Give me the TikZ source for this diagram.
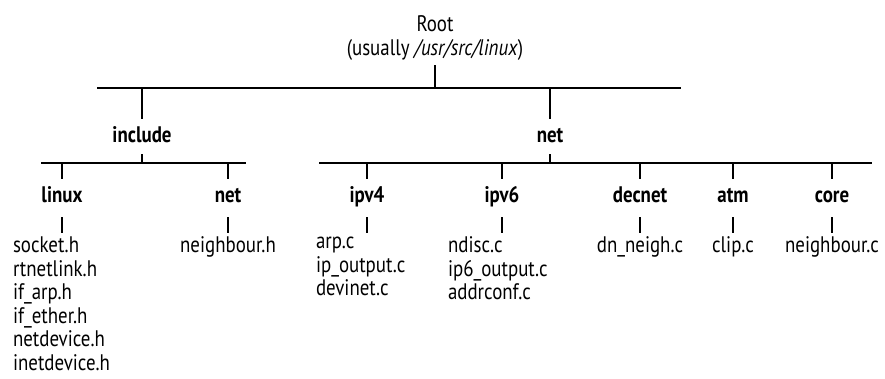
\documentclass[tikz,border=0pt]{standalone}
\usepackage{fontspec}
\setmainfont{PT Sans}[FakeStretch=0.84]
\usetikzlibrary{positioning}
\tikzset{
  % bars and stems
  ln/.style={line width=2.8pt},
  % plain text
  txt/.style={font=\fontsize{22.5}{23.5}\selectfont},
  % folder labels
  dir/.style={txt,font=\fontsize{22.5}{23.5}\selectfont\bfseries,
              inner sep=0pt,outer xsep=0pt,outer ysep=6pt,
              text height=17pt,text depth=6pt,anchor=base},
  % folders that hold files
  leaf/.style={dir,text depth=9pt},
  % file lists
  files/.style={txt,inner sep=0pt,outer xsep=0pt,outer ysep=4pt,
                align=left,anchor=north west}
}
\begin{document}
\begin{tikzpicture}[x=1pt,y=1pt]
  \useasboundingbox (0,0) rectangle (885,-378);

  % --- root ---
  \node[txt,align=center,anchor=south,inner sep=0pt,outer sep=5pt] (root) at (435,-65)
       {Root\\(usually \textit{/usr/src/linux})};
  \coordinate (rootL) at (97,-88);
  \coordinate (rootR) at (681,-88);

  % --- second level ---
  \node[dir] (include) at (142,-142) {include};
  \node[dir] (net)     at (550,-142) {net};
  \coordinate (incL) at (41,-163);
  \coordinate (incR) at (246,-163);
  \coordinate (netL) at (319,-163);
  \coordinate (netR) at (872,-163);

  % --- third level ---
  \node[leaf] (linux)  at (62,-202)  {linux};
  \node[leaf] (incnet) at (228,-202) {net};
  \node[leaf] (ipv4)   at (367,-202) {ipv4};
  \node[leaf] (ipv6)   at (502,-202) {ipv6};
  \node[leaf] (decnet) at (640,-202) {decnet};
  \node[leaf] (atm)    at (733,-202) {atm};
  \node[leaf] (core)   at (832,-202) {core};

  % --- files ---
  \node[files] (linux-f) at (13,-233)
       {socket.h\\rtnetlink.h\\if\_arp.h\\if\_ether.h\\netdevice.h\\inetdevice.h};
  \node[files,anchor=north] (incnet-f) at (228,-233) {neighbour.h};
  \node[files] (ipv4-f) at (316,-233) {arp.c\\ip\_output.c\\devinet.c};
  \node[files] (ipv6-f) at (448,-233) {ndisc.c\\ip6\_output.c\\addrconf.c};
  \node[files,anchor=north] (decnet-f) at (640,-233) {dn\_neigh.c};
  \node[files,anchor=north] (atm-f)    at (733,-233) {clip.c};
  \node[files,anchor=north] (core-f)   at (832,-233) {neighbour.c};

  % --- connectors ---
  \draw[ln] (rootL) -- (rootR);
  \draw[ln] (root.south) -- (root.south |- rootL);
  \foreach \d in {include,net}
    \draw[ln] (\d.north |- rootL) -- (\d.north);
  \draw[ln] (incL) -- (incR);
  \draw[ln] (include.south) -- (include.south |- incL);
  \draw[ln] (netL) -- (netR);
  \draw[ln] (net.south) -- (net.south |- netL);
  \foreach \d in {linux,incnet}
    \draw[ln] (\d.north |- incL) -- (\d.north)
              (\d.south) -- (\d.south |- \d-f.north);
  \foreach \d in {ipv4,ipv6,decnet,atm,core}
    \draw[ln] (\d.north |- netL) -- (\d.north)
              (\d.south) -- (\d.south |- \d-f.north);
\end{tikzpicture}
\end{document}
